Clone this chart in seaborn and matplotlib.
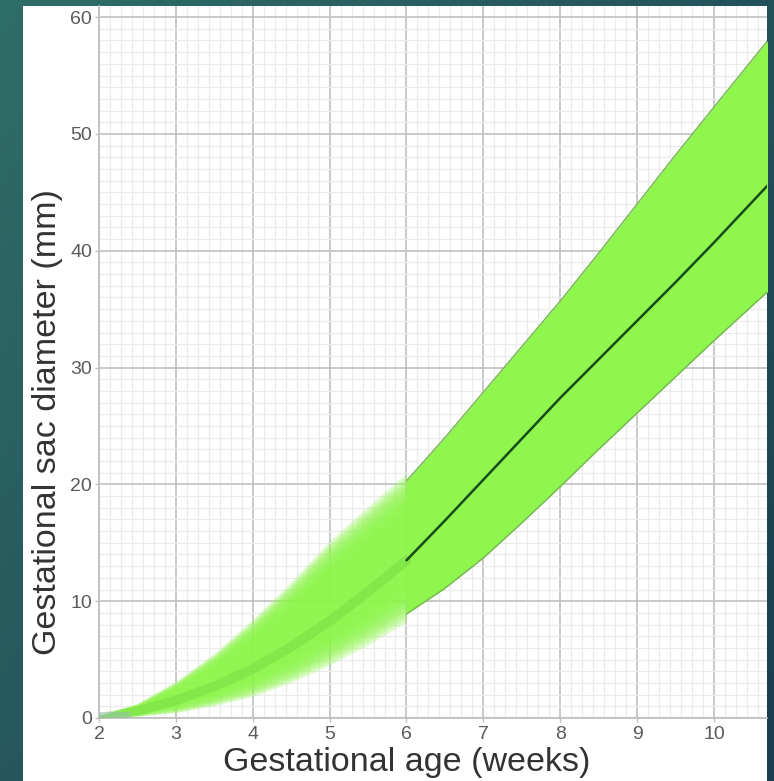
import numpy as np
import pandas as pd
import matplotlib
matplotlib.use("Agg")
import matplotlib.pyplot as plt
from matplotlib.ticker import MultipleLocator
from matplotlib.patches import Rectangle
import seaborn as sns

# ---- data ----
weeks = [2.0, 2.5, 3.0, 3.5, 4.0, 4.5, 5.0, 5.5, 6.0, 6.5, 7.0, 7.5, 8.0, 8.5, 9.0, 9.5, 10.0, 10.7]
mean_mm = [0.0, 0.6, 1.5, 2.7, 4.2, 6.1, 8.3, 10.8, 13.5, 16.9, 20.4, 23.9, 27.4, 30.7, 34.0, 37.3, 40.7, 45.6]
upper_mm = [0.2, 1.2, 3.0, 5.3, 8.1, 11.2, 14.6, 17.5, 20.3, 24.0, 27.9, 31.8, 35.7, 39.8, 44.0, 48.2, 52.3, 58.0]
lower_mm = [0.0, 0.2, 0.6, 1.3, 2.2, 3.5, 5.1, 6.9, 8.9, 11.1, 13.7, 16.7, 19.8, 23.0, 26.1, 29.2, 32.3, 36.5]
x_ticks = [2, 3, 4, 5, 6, 7, 8, 9, 10]
y_ticks = [0, 10, 20, 30, 40, 50, 60]
x_label = "Gestational age (weeks)"
y_label = "Gestational sac diameter (mm)"
fuzzy_until = 6.0

df = pd.DataFrame({"weeks": weeks, "mean": mean_mm, "upper": upper_mm, "lower": lower_mm})

sns.set_theme(style="white")
plt.rcParams["font.family"] = ["Liberation Sans", "DejaVu Sans"]

W, H = 774, 781
fig = plt.figure(figsize=(W / 100, H / 100), dpi=100)

# teal background with gradient
bg = fig.add_axes([0, 0, 1, 1], zorder=-10)
gy, gx = np.mgrid[0:1:200j, 0:1:200j]
t = 0.55 * gx + 0.45 * gy
c0 = np.array([0x2f, 0x6d, 0x67]) / 255
c1 = np.array([0x19, 0x3c, 0x4f]) / 255
img = c0[None, None, :] * (1 - t[..., None]) + c1[None, None, :] * t[..., None]
bg.imshow(img, extent=[0, 1, 0, 1], aspect="auto", origin="upper")
bg.set_xlim(0, 1); bg.set_ylim(0, 1)
bg.axis("off")
bg.add_patch(Rectangle((23 / W, 0), (767 - 23) / W, (H - 6) / H, facecolor="white",
                       edgecolor="none", transform=bg.transAxes))

# main axes
left, right = 99 / W, 767 / W
bottom, top = (H - 718) / H, (H - 6) / H
ax = fig.add_axes([left, bottom, right - left, top - bottom])
ax.set_facecolor("white")
ax.set_xlim(2, 10.69)
ax.set_ylim(0, 60.95)

ax.xaxis.set_major_locator(MultipleLocator(1))
ax.xaxis.set_minor_locator(MultipleLocator(1 / 7))
ax.yaxis.set_major_locator(MultipleLocator(10))
ax.yaxis.set_minor_locator(MultipleLocator(1))
ax.grid(which="minor", color="#ebebeb", linewidth=0.9)
ax.grid(which="major", color="#c0c0c0", linewidth=1.2)
ax.set_axisbelow(True)
for s in ["top", "right"]:
    ax.spines[s].set_visible(False)
for s in ["left", "bottom"]:
    ax.spines[s].set_color("#bdbdbd")
    ax.spines[s].set_linewidth(1.2)

# fuzzy early part of the band
early = df[df["weeks"] <= fuzzy_until]
half = (early["upper"] - early["lower"]) / 2
green = "#8ef64c"
for tt in np.linspace(-0.12, 0.4, 10):
    ax.fill_between(early["weeks"], early["lower"] + tt * half, early["upper"] - tt * half,
                    color=green, alpha=0.28, linewidth=0, zorder=2)
sns.lineplot(data=early, x="weeks", y="mean", ax=ax, color="#5cbf38", linewidth=7,
             alpha=0.25, zorder=3)
# faint blue patch near origin
ax.fill_between([2.0, 2.4], [0, 0], [0.5, 0.5], color="#aab8e6", alpha=0.5, linewidth=0, zorder=2)

# crisp later part of the band
late = df[df["weeks"] >= fuzzy_until]
ax.fill_between(late["weeks"], late["lower"], late["upper"], color=green, linewidth=0, zorder=2)
ax.plot(late["weeks"], late["upper"], color="#79b35a", linewidth=1.0, zorder=3)
ax.plot(late["weeks"], late["lower"], color="#79b35a", linewidth=1.0, zorder=3)
sns.lineplot(data=late, x="weeks", y="mean", ax=ax, color="#184a1c", linewidth=1.8, zorder=4)

ax.set_xticks(x_ticks)
ax.set_yticks(y_ticks)
ax.set_xticklabels([str(v) for v in x_ticks])
ax.set_yticklabels([str(v) for v in y_ticks])
ax.tick_params(axis="both", which="major", labelsize=14, labelcolor="#5a5a5a",
               color="#bdbdbd", length=3, width=1, left=True, bottom=True)
ax.tick_params(axis="x", pad=3)
ax.tick_params(axis="y", pad=2)
ax.tick_params(which="minor", length=0)

ax.set_xlabel(x_label, fontsize=24.5, color="#333333")
ax.set_ylabel(y_label, fontsize=24.5, color="#333333")
ax.xaxis.set_label_coords((407 - 99) / 668, (718 - 747) / 712)
ax.yaxis.set_label_coords((63 - 99) / 668, (718 - 422) / 712)

fig.savefig("out.png", dpi=100)
